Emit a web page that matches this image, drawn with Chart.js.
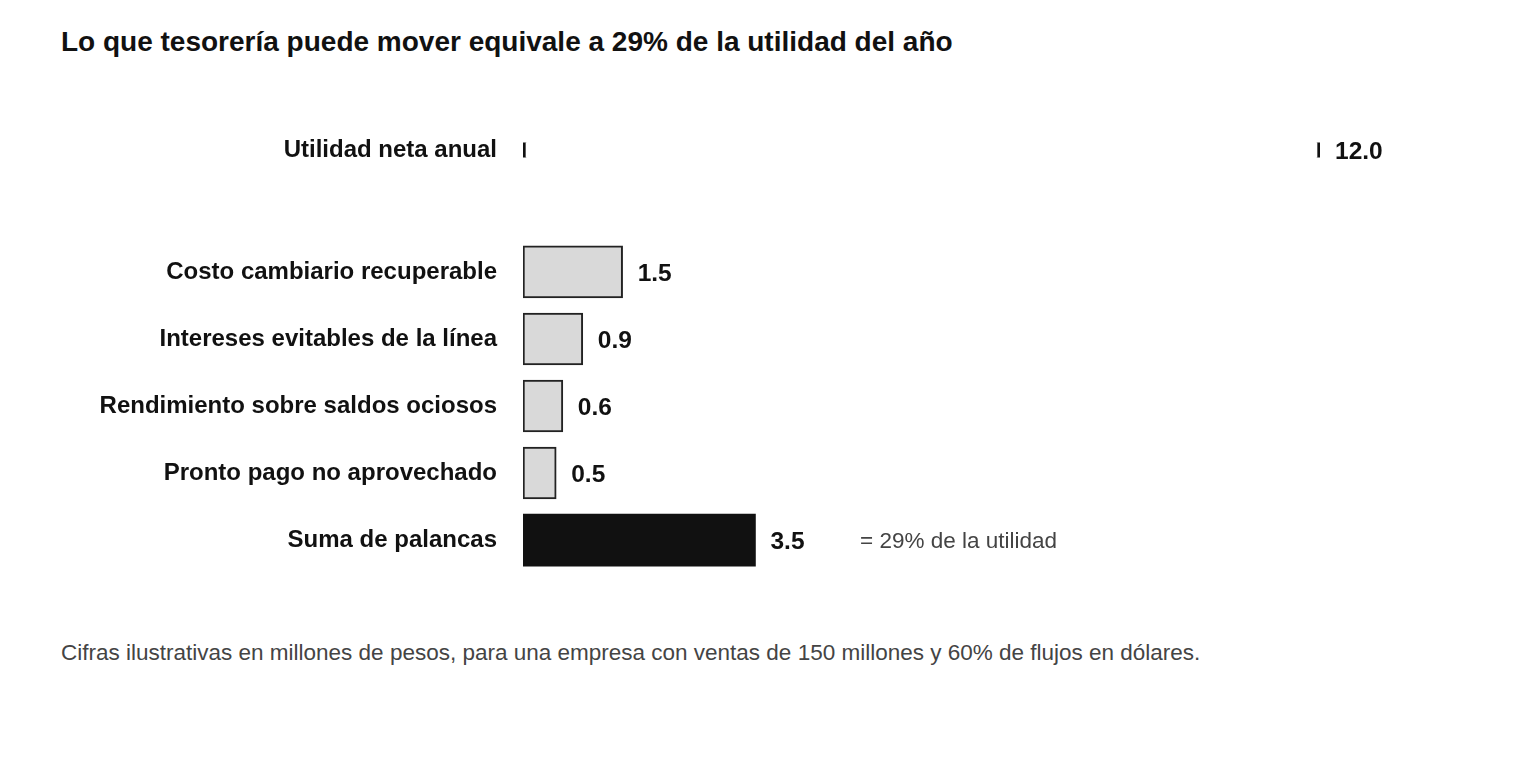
<!DOCTYPE html>
<html><head><meta charset="utf-8">
<script src="https://cdn.jsdelivr.net/npm/chart.js@4"></script>
<style>
body{margin:0;background:#fff;font-family:"Liberation Sans",Arial,sans-serif;}
#wrap{position:relative;width:1520px;height:760px;}
#t{position:absolute;left:61px;top:26px;font-size:28px;font-weight:bold;color:#111;}
#f{position:absolute;left:61px;top:640px;font-size:22.5px;color:#444;}
canvas{position:absolute;left:0;}
</style></head><body>
<div id="wrap">
<div id="t">Lo que tesorería puede mover equivale a 29% de la utilidad del año</div>
<canvas id="c1" width="1520" height="80" style="top:110px;width:1520px;height:80px"></canvas>
<canvas id="c2" width="1520" height="400" style="top:206px;width:1520px;height:400px"></canvas>
<div id="f">Cifras ilustrativas en millones de pesos, para una empresa con ventas de 150 millones y 60% de flujos en dólares.</div>
</div>
<script>
const topCategory=["Utilidad neta anual"];
const topValues=[12.0];
const categories=["Costo cambiario recuperable","Intereses evitables de la línea","Rendimiento sobre saldos ociosos","Pronto pago no aprovechado","Suma de palancas"];
const values=[1.5,0.9,0.6,0.5,3.5];
const sumNote="= 29% de la utilidad";

const valPlugin={id:'vals',afterDatasetsDraw(ch){
  const ctx=ch.ctx;const meta=ch.getDatasetMeta(0);
  ctx.save();ctx.textBaseline='middle';
  meta.data.forEach((b,i)=>{
    const v=ch.data.datasets[0].data[i];
    ctx.font='bold 24.5px "Liberation Sans",Arial';ctx.fillStyle='#111';
    ctx.fillText(v.toFixed(1),b.x+15,b.y+2);
    if(ch.canvas.id==='c2'&&i===values.length-1){
      ctx.font='22.5px "Liberation Sans",Arial';ctx.fillStyle='#444';
      ctx.fillText(sumNote,860,b.y+2);
    }
  });ctx.restore();}};

function make(id,labels,data,bg,bc,bw){
  new Chart(document.getElementById(id),{type:'bar',
    data:{labels,datasets:[{data,backgroundColor:bg,borderColor:bc,borderWidth:bw,barThickness:52,borderSkipped:false}]},
    options:{indexAxis:'y',responsive:false,animation:false,devicePixelRatio:1,
      layout:{padding:{left:0,right:200,top:0,bottom:0}},
      plugins:{legend:{display:false},tooltip:{enabled:false}},
      scales:{x:{display:false,min:0,max:12},
        y:{grid:{display:false},border:{display:false},
          ticks:{color:'#111',font:{family:'"Liberation Sans",Arial',size:24,weight:'bold'},padding:18},
          afterFit(s){s.width=523;}}}},
    plugins:[valPlugin]});
}
make('c1',topCategory,topValues,'#fff','#111',3);
make('c2',categories,values,
  ['#d9d9d9','#d9d9d9','#d9d9d9','#d9d9d9','#111'],
  ['#222','#222','#222','#222','#111'],[2,2,2,2,0]);
</script>
</body></html>
